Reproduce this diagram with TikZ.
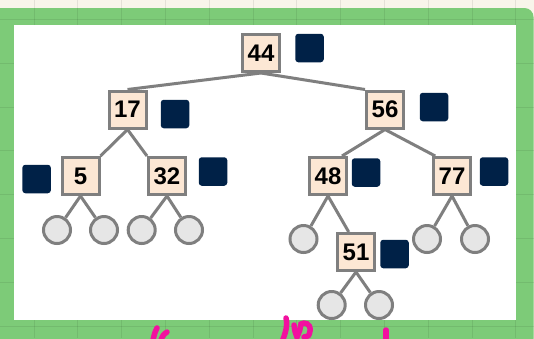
\documentclass[tikz,border=0pt]{standalone}
\usepackage{fontspec}
\setmainfont{Liberation Sans}
\usepackage{tikz}
\usetikzlibrary{positioning, calc}
\definecolor{bstcream}{HTML}{F8F5EA}
\definecolor{bstgreen}{HTML}{7DCB78}
\definecolor{bstnavy}{HTML}{002147}
\definecolor{bstpeach}{HTML}{FCE7D4}
\definecolor{bstgray}{HTML}{7F7F7F}
\definecolor{bstleaf}{HTML}{E6E6E6}
\definecolor{bstpink}{HTML}{F2109F}

\begin{document}
\begin{tikzpicture}[
    x=1pt, y=-1pt,
    keybox/.style={rectangle, draw=bstgray, fill=bstpeach, line width=3pt, minimum size=37pt, inner sep=0pt, font=\bfseries\fontsize{24}{24}\selectfont},
    tagbox/.style={rectangle, rounded corners=3pt, fill=bstnavy, minimum size=28.5pt, inner sep=0pt},
    leaf/.style={circle, draw=bstgray, fill=bstleaf, line width=3pt, minimum size=27pt, inner sep=0pt},
    edge/.style={draw=bstgray, line width=3pt},
    scribble/.style={draw=bstpink, line width=5.5pt, line cap=round}
]
\useasboundingbox (0,0) rectangle (534,338);

% Background board
\fill[bstcream] (0,0) rectangle (534,338);
\fill[bstgreen, rounded corners=9pt] (-20,8) rectangle (533.5,360);
\foreach \gx in {34,77.8,...,534} \draw[black, opacity=0.08, line width=1pt] (\gx,0) -- (\gx,338);
\foreach \gy in {19.4,63.2,...,338} \draw[black, opacity=0.08, line width=1pt] (0,\gy) -- (534,\gy);
\fill[white] (13.5,25) rectangle (516,320);

% Keys
\node[keybox] (n44) at (261,53) {44};
\node[keybox] (n17) at (127.5,109.5) {17};
\node[keybox] (n56) at (385,109.5) {56};
\node[keybox] (n5) at (80.5,176) {5};
\node[keybox] (n32) at (167,176) {32};
\node[keybox] (n48) at (328,176) {48};
\node[keybox] (n77) at (452,176) {77};
\node[keybox] (n51) at (356,252) {51};

% Tags
\node[tagbox] (t44) at (309.5,48) {};
\node[tagbox] (t17) at (175,114) {};
\node[tagbox] (t56) at (434,107) {};
\node[tagbox] (t5) at (36.6,179) {};
\node[tagbox] (t32) at (213,171.5) {};
\node[tagbox] (t48) at (366,172.5) {};
\node[tagbox] (t77) at (494,171.5) {};
\node[tagbox] (t51) at (394.5,254) {};

% Empty leaves
\node[leaf] (l5a) at (57,230) {};
\node[leaf] (l5b) at (104,230) {};
\node[leaf] (l32a) at (141.7,230) {};
\node[leaf] (l32b) at (189,230) {};
\node[leaf] (l48a) at (303.5,239) {};
\node[leaf] (l77a) at (427,239) {};
\node[leaf] (l77b) at (475,239) {};
\node[leaf] (l51a) at (331.7,305) {};
\node[leaf] (l51b) at (379,305) {};

% Edges
\draw[edge] (n44.south) -- (n17.north);
\draw[edge] (n44.south) -- (n56.north west);
\draw[edge] (n17.south) -- (n5.north east);
\draw[edge] (n17.south) -- (n32.north west);
\draw[edge] (n56.south) -- (n48.55);
\draw[edge] (n56.south) -- (n77.130);
\draw[edge] (n48.south) -- (n51.110);
\draw[edge] (n5.south) -- (l5a);
\draw[edge] (n5.south) -- (l5b);
\draw[edge] (n32.south) -- (l32a);
\draw[edge] (n32.south) -- (l32b);
\draw[edge] (n48.south) -- (l48a);
\draw[edge] (n77.south) -- (l77a);
\draw[edge] (n77.south) -- (l77b);
\draw[edge] (n51.south) -- (l51a);
\draw[edge] (n51.south) -- (l51b);

% Pink scribble
\draw[scribble] (157,328) .. controls (155,332) .. (153,340);
\draw[scribble] (167,332) .. controls (163,335) .. (161,340);
\draw[scribble] (286,318) .. controls (288,326) and (285,334) .. (282,342);
\draw[scribble] (294,325) .. controls (295,332) .. (297,337) .. controls (300,330) .. (301,324) .. controls (304,322) and (311,323) .. (310,331) .. controls (309,336) .. (304,337);
\draw[scribble] (386,330) -- (386,340);
\end{tikzpicture}
\end{document}
